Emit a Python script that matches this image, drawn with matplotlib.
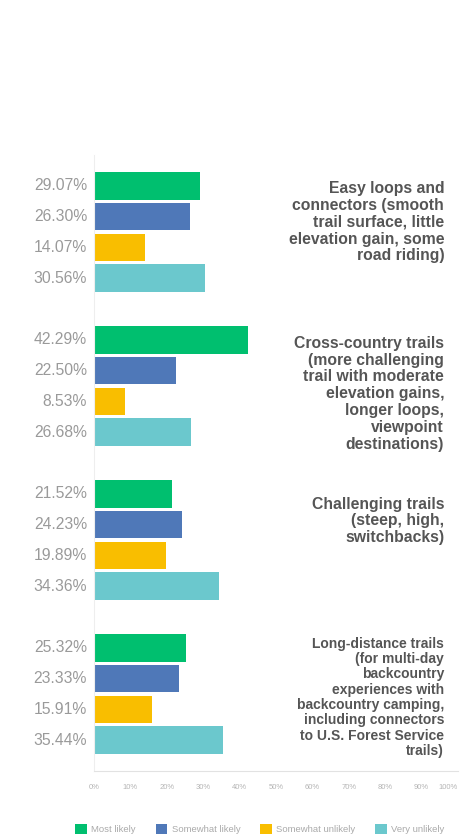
import matplotlib.pyplot as plt
import matplotlib.patches as mpatches
import matplotlib.transforms as mtransforms

plt.rcParams['font.family'] = ['Liberation Sans', 'DejaVu Sans']

categories = [
    "Easy loops and\nconnectors (smooth\ntrail surface, little\nelevation gain, some\nroad riding)",
    "Cross-country trails\n(more challenging\ntrail with moderate\nelevation gains,\nlonger loops,\nviewpoint\ndestinations)",
    "Challenging trails\n(steep, high,\nswitchbacks)",
    "Long-distance trails\n(for multi-day\nbackcountry\nexperiences with\nbackcountry camping,\nincluding connectors\nto U.S. Forest Service\ntrails)",
]
series = ['Most likely', 'Somewhat likely', 'Somewhat unlikely', 'Very unlikely']
most_likely = [29.07, 42.29, 21.52, 25.32]
somewhat_likely = [26.30, 22.50, 24.23, 23.33]
somewhat_unlikely = [14.07, 8.53, 19.89, 15.91]
very_unlikely = [30.56, 26.68, 34.36, 35.44]
xticks = [0, 10, 20, 30, 40, 50, 60, 70, 80, 90, 100]

colors = ['#00bf6f', '#4f78b8', '#f9be00', '#6bc8cd']
values = [most_likely, somewhat_likely, somewhat_unlikely, very_unlikely]

# label styling per group (long label is set smaller in the source)
label_sizes = [11.3, 11.3, 11.3, 10]
label_offsets = [-0.15, -0.13, 0.09, -0.36]
label_spacing = [1.15, 1.15, 1.15, 1.12]

W, H = 463, 838
fig = plt.figure(figsize=(W / 100, H / 100), dpi=100)
ax = fig.add_axes([94 / W, (H - 771) / H, 364 / W, 616 / H])

trans = mtransforms.blended_transform_factory(ax.transAxes, ax.transData)
for g in range(len(categories)):
    for i, s in enumerate(series):
        y = g * 5 + i
        v = values[i][g]
        ax.barh(y, v, height=0.89, color=colors[i], edgecolor='none')
        ax.text(-0.019, y, f'{v:.2f}%', transform=trans, ha='right', va='center',
                fontsize=11.3, color='#9a9a9a')
    ax.text(0.962, g * 5 + label_offsets[g], categories[g], transform=trans,
            ha='right', va='top', fontsize=label_sizes[g], fontweight='bold',
            color='#555555', linespacing=label_spacing[g])

ax.set_xlim(0, 100)
ax.set_ylim(19, -1)
ax.set_yticks([])
ax.set_xticks(xticks)
ax.set_xticklabels([f'{t}%' for t in xticks], fontsize=5.5, color='#b5b5b5')
ax.get_xticklabels()[-1].set_horizontalalignment('right')
ax.tick_params(axis='x', length=0, pad=9)
for side in ['top', 'right']:
    ax.spines[side].set_visible(False)
ax.spines['left'].set_color('#eeeeee')
ax.spines['bottom'].set_color('#e2e2e2')
ax.spines['left'].set_linewidth(0.8)
ax.spines['bottom'].set_linewidth(0.8)

handles = [mpatches.Patch(facecolor=c, edgecolor='none') for c in colors]
fig.legend(handles, series, ncol=4, loc='center', bbox_to_anchor=(260 / W, (H - 829) / H),
           frameon=False, fontsize=6.8, labelcolor='#aaaaaa', handlelength=1.2,
           handleheight=1.2, handletextpad=0.5, columnspacing=2.1)

plt.savefig('out.png', dpi=100, facecolor='white')
